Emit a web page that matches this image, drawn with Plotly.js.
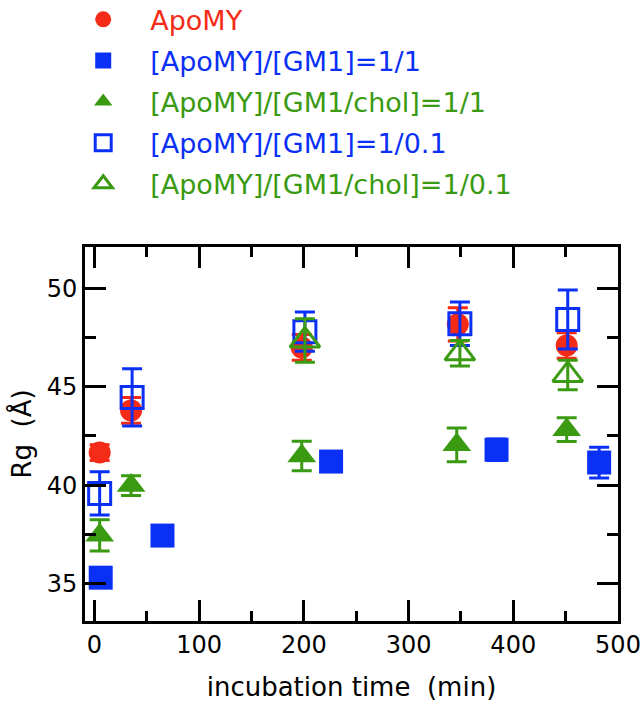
<!DOCTYPE html>
<html>
<head>
<meta charset="utf-8">
<script src="https://cdn.plot.ly/plotly-3.0.1.min.js"></script>
<style>html,body{margin:0;padding:0;background:#fff;}</style>
</head>
<body>
<div id="chart" style="width:640px;height:713px;"></div>
<script>
// Series names
const seriesNames = ["ApoMY", "[ApoMY]/[GM1]=1/1", "[ApoMY]/[GM1/chol]=1/1", "[ApoMY]/[GM1]=1/0.1", "[ApoMY]/[GM1/chol]=1/0.1"];

// Axis tick labels
const xTicks = [0, 100, 200, 300, 400, 500];
const xMinorTicks = [50, 150, 250, 350, 450];
const yTicks = [35, 40, 45, 50];
const yMinorTicks = [37.5, 42.5, 47.5];

// ApoMY (red filled circles)
const apoX = [5, 35, 198, 347, 451];
const apoY = [41.66, 43.8, 47.0, 48.17, 47.1];
const apoErr = [0.4, 0.65, 0.65, 0.85, 0.65];

// [ApoMY]/[GM1]=1/1 (blue filled squares)
const gm1X = [6, 65, 226, 384, 482];
const gm1Y = [35.3, 37.44, 41.2, 41.8, 41.15];
const gm1Err = [0.4, 0.4, 0.4, 0.55, 0.78];

// [ApoMY]/[GM1/chol]=1/1 (green filled triangles)
const cholX = [5, 35, 198, 346, 451];
const cholY = [37.45, 39.98, 41.48, 42.05, 42.82];
const cholErr = [0.8, 0.5, 0.75, 0.86, 0.6];

// [ApoMY]/[GM1]=1/0.1 (blue open squares)
const gm1lowX = [5, 36, 201, 349, 452];
const gm1lowY = [39.58, 44.46, 47.8, 48.2, 48.42];
const gm1lowErr = [1.1, 1.45, 1.0, 1.1, 1.5];

// [ApoMY]/[GM1/chol]=1/0.1 (green open triangles)
const chollowX = [201, 349, 452];
const chollowY = [47.35, 46.7, 45.6];
const chollowErr = [1.1, 0.65, 0.75];

const RED = '#F42B17', BLUE = '#0A30F5', GREEN = '#3A9A12';
const FONT = 'DejaVu Sans, Verdana, sans-serif';

function errY(arr, color) {
  return {type: 'data', array: arr, visible: true, color: color, thickness: 3, width: 10};
}
function label(name, color) {
  return '<span style="color:' + color + '">' + name + '</span>';
}

const traces = [
  {x: apoX, y: apoY, error_y: errY(apoErr, RED), mode: 'markers', type: 'scatter',
   name: label(seriesNames[0], RED), legendgroup: 'a',
   marker: {symbol: 'circle', size: 22, color: RED}},
  {x: gm1X, y: gm1Y, error_y: errY(gm1Err, BLUE), mode: 'markers', type: 'scatter',
   name: label(seriesNames[1], BLUE), legendgroup: 'b',
   marker: {symbol: 'square', size: 24, color: BLUE}},
  {x: cholX, y: cholY, error_y: errY(cholErr, GREEN), mode: 'markers', type: 'scatter',
   name: label(seriesNames[2], GREEN), legendgroup: 'c',
   marker: {symbol: 'triangle-up', size: 25, color: GREEN}},
  {x: gm1lowX, y: gm1lowY, error_y: errY(gm1lowErr, BLUE), mode: 'markers', type: 'scatter',
   name: label(seriesNames[3], BLUE), legendgroup: 'd',
   marker: {symbol: 'square-open', size: 22, color: BLUE, line: {width: 3, color: BLUE}}},
  {x: chollowX, y: chollowY, error_y: errY(chollowErr, GREEN), mode: 'markers', type: 'scatter',
   name: label(seriesNames[4], GREEN), legendgroup: 'e',
   marker: {symbol: 'triangle-up-open', size: 26, color: GREEN, line: {width: 3, color: GREEN}}}
];

const axisCommon = {
  showgrid: false, zeroline: false, showline: true, linewidth: 3, linecolor: '#000',
  mirror: 'ticks', ticks: 'inside', ticklen: 21, tickwidth: 3, tickcolor: '#000',
  ticklabeloverflow: 'allow',
  tickfont: {family: FONT, size: 24, color: '#000'}
};

const layout = {
  width: 640, height: 713,
  margin: {l: 85, r: 22, t: 247, b: 92, pad: 0, autoexpand: false},
  paper_bgcolor: '#fff', plot_bgcolor: '#fff',
  font: {family: FONT, color: '#000'},
  showlegend: true,
  legend: {
    x: -0.054, xanchor: 'left', y: 1.673, yanchor: 'top',
    font: {family: FONT, size: 27},
    bgcolor: 'rgba(0,0,0,0)', itemwidth: 84, tracegroupgap: 3,
    traceorder: 'grouped'
  },
  xaxis: Object.assign({}, axisCommon, {
    range: [-9, 500], tickvals: xTicks,
    minor: {tickvals: xMinorTicks, ticks: 'inside', ticklen: 10, tickwidth: 3, tickcolor: '#000'},
    title: {text: 'incubation time\u00A0 (min)', font: {family: FONT, size: 26, color: '#000'}, standoff: 21}
  }),
  yaxis: Object.assign({}, axisCommon, {
    range: [33.1, 52.1], tickvals: yTicks,
    minor: {tickvals: yMinorTicks, ticks: 'inside', ticklen: 11, tickwidth: 3, tickcolor: '#000'},
    title: {text: 'Rg\u00A0 (Å)', font: {family: FONT, size: 26, color: '#000'}, standoff: 8}
  })
};

Plotly.newPlot('chart', traces, layout, {displayModeBar: false, staticPlot: true});
</script>
</body>
</html>
